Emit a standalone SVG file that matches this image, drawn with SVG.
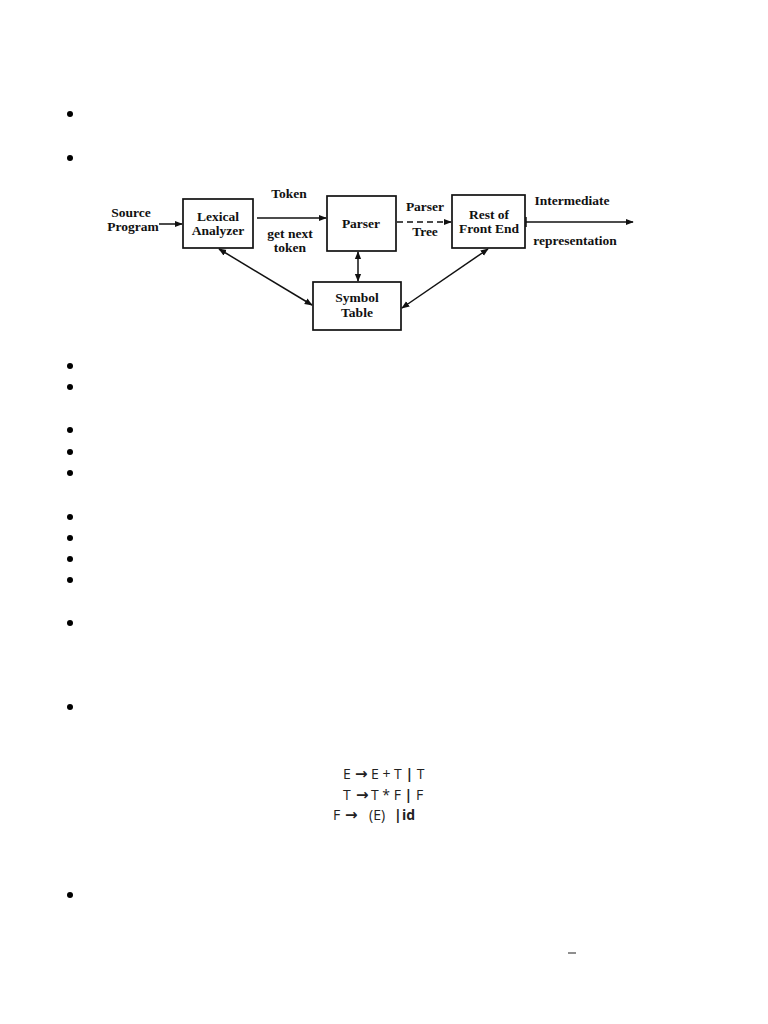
<svg xmlns="http://www.w3.org/2000/svg" width="768" height="1024" viewBox="0 0 768 1024">
<style>
.box{fill:#fff;stroke:#111;stroke-width:1.7}
.t{font-family:"Liberation Serif",serif;font-weight:bold;font-size:13.5px;fill:#111;text-anchor:middle}
.ln{stroke:#111;stroke-width:1.5;fill:none}
.g{font-family:"Open Sans","Liberation Sans",sans-serif;font-size:14px;fill:#222}
.ar{font-family:"DejaVu Sans",sans-serif;font-weight:bold;font-size:15px;fill:#222}
.b{fill:#000}
</style>
<defs>
<marker id="ah" viewBox="0 0 10 10" refX="9" refY="5" markerWidth="8" markerHeight="8" orient="auto-start-reverse" markerUnits="userSpaceOnUse">
<path d="M0,1 L10,5 L0,9 z" fill="#111"/>
</marker>
</defs>
<rect width="768" height="1024" fill="#fff"/>
<g id="bullets">
<circle class="b" cx="70" cy="114" r="3"/>
<circle class="b" cx="70" cy="158" r="3"/>
<circle class="b" cx="70" cy="366" r="3"/>
<circle class="b" cx="70" cy="387" r="3"/>
<circle class="b" cx="70" cy="430" r="3"/>
<circle class="b" cx="70" cy="452" r="3"/>
<circle class="b" cx="70" cy="473" r="3"/>
<circle class="b" cx="70" cy="517" r="3"/>
<circle class="b" cx="70" cy="538" r="3"/>
<circle class="b" cx="70" cy="559" r="3"/>
<circle class="b" cx="70" cy="580" r="3"/>
<circle class="b" cx="70" cy="623" r="3"/>
<circle class="b" cx="70" cy="707" r="3"/>
<circle class="b" cx="70" cy="895" r="3"/>
</g>
<g id="connectors">
<line class="ln" x1="159" y1="224" x2="182" y2="224" marker-end="url(#ah)"/>
<line class="ln" x1="257" y1="218" x2="326" y2="218" marker-end="url(#ah)"/>
<line class="ln" x1="397" y1="222" x2="451" y2="222" stroke-dasharray="6,4" marker-end="url(#ah)"/>
<line class="ln" x1="526" y1="222" x2="633" y2="222" marker-end="url(#ah)"/>
<line class="ln" x1="526" y1="217" x2="526" y2="227"/>
<line class="ln" x1="219" y1="249" x2="312" y2="305" marker-start="url(#ah)" marker-end="url(#ah)"/>
<line class="ln" x1="358" y1="252" x2="358" y2="281" marker-start="url(#ah)" marker-end="url(#ah)"/>
<line class="ln" x1="488" y1="249" x2="402" y2="308" marker-start="url(#ah)" marker-end="url(#ah)"/>
<text class="t" x="289" y="198">Token</text>
<text class="t" x="290" y="238">get next</text>
<text class="t" x="290" y="252">token</text>
<text class="t" x="425" y="211">Parser</text>
<text class="t" x="425" y="236">Tree</text>
<text class="t" x="572" y="205">Intermediate</text>
<text class="t" x="575" y="245">representation</text>
</g>
<g id="source">
<text class="t" x="131" y="217">Source</text>
<text class="t" x="133" y="231">Program</text>
</g>
<g id="lexical">
<rect class="box" x="183" y="199" width="70" height="49"/>
<text class="t" x="218" y="221">Lexical</text>
<text class="t" x="218" y="235">Analyzer</text>
</g>
<g id="parser">
<rect class="box" x="327" y="196" width="69" height="55"/>
<text class="t" x="361" y="228">Parser</text>
</g>
<g id="rest">
<rect class="box" x="452" y="195" width="73" height="53"/>
<text class="t" x="489" y="219">Rest of</text>
<text class="t" x="489" y="233">Front End</text>
</g>
<g id="symbol">
<rect class="box" x="313" y="282" width="88" height="48"/>
<text class="t" x="357" y="302">Symbol</text>
<text class="t" x="357" y="317">Table</text>
</g>
<g id="grammar">
<text class="g" x="343" y="779">E</text>
<text class="ar" x="355" y="779">→</text>
<text class="g" x="371" y="779">E + T <tspan font-weight="bold">|</tspan> T</text>
<text class="g" x="343" y="800">T</text>
<text class="ar" x="356" y="800">→</text>
<text class="g" x="371" y="800">T * F <tspan font-weight="bold">|</tspan> F</text>
<text class="g" x="333" y="820">F</text>
<text class="ar" x="345" y="820">→</text>
<text class="g" x="369" y="820">(E)</text>
<text class="g" x="394" y="820" font-weight="bold">|</text>
<text class="g" x="402" y="820" font-weight="bold">id</text>
</g>
<line x1="568" y1="953" x2="576" y2="953" stroke="#444" stroke-width="1.2"/>
</svg>
